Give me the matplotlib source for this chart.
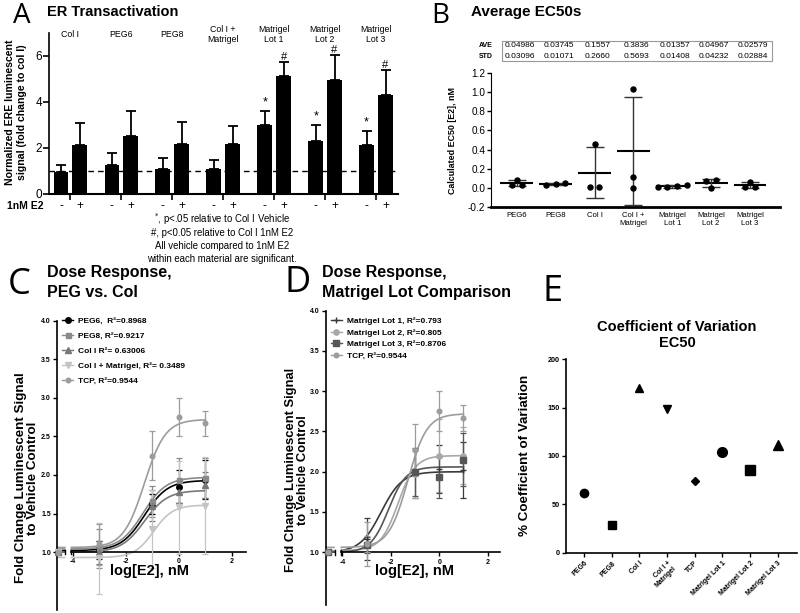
import numpy as np
import matplotlib.pyplot as plt
import matplotlib.transforms as mtransforms
from matplotlib.lines import Line2D
from matplotlib.patches import Rectangle

plt.rcParams['font.family'] = ['Liberation Sans', 'DejaVu Sans']
plt.rcParams['axes.unicode_minus'] = False

W, H = 800, 613

# ---------------- data ----------------
# A: ER transactivation (fold change to Col I)
a_groups = ['Col I', 'PEG6', 'PEG8', 'Col I +\nMatrigel', 'Matrigel\nLot 1', 'Matrigel\nLot 2', 'Matrigel\nLot 3']
a_vehicle = [0.96, 1.27, 1.10, 1.07, 3.00, 2.30, 2.14]
a_vehicle_err = [0.28, 0.52, 0.47, 0.39, 0.59, 0.70, 0.58]
a_e2 = [2.12, 2.52, 2.18, 2.18, 5.12, 4.96, 4.30]
a_e2_err = [0.95, 1.10, 0.97, 0.78, 0.62, 1.07, 1.07]
a_vehicle_sig = ['', '', '', '', '*', '*', '*']
a_e2_sig = ['', '', '', '', '#', '#', '#']

# B: average EC50s
b_groups = ['PEG6', 'PEG8', 'Col I', 'Col I +\nMatrigel', 'Matrigel\nLot 1', 'Matrigel\nLot 2', 'Matrigel\nLot 3']
b_points = [[0.085, 0.032, 0.032],
            [0.025, 0.045, 0.042],
            [0.002, 0.463, 0.002],
            [1.040, 0.110, 0.000],
            [0.003, 0.015, 0.032, 0.004],
            [0.075, 0.074, 0.000],
            [0.059, 0.009, 0.009]]
b_ave = [0.04986, 0.03745, 0.1557, 0.3836, 0.01357, 0.04967, 0.02579]
b_std = [0.03096, 0.01071, 0.2660, 0.5693, 0.01408, 0.04232, 0.02884]

# C/D: dose response, log[E2] nM
dose_log = [-3, -1, 0, 1]
c_names = ['PEG6,  R²=0.8968', 'PEG8, R²=0.9217', 'Col I R²= 0.63006',
           'Col I + Matrigel, R²= 0.3489', 'TCP, R²=0.9544']
c_mean = [[1.03, 1.63, 1.85, 1.94],
          [1.05, 1.66, 1.93, 1.96],
          [1.00, 1.60, 1.78, 1.87],
          [0.92, 1.30, 1.58, 1.60],
          [1.10, 2.25, 2.75, 2.67]]
c_err = [[0.12, 0.13, 0.21, 0.25],
         [0.25, 0.20, 0.29, 0.26],
         [0.15, 0.20, 0.14, 0.17],
         [0.46, 0.50, 0.60, 0.63],
         [0.27, 0.32, 0.25, 0.16]]
# fitted 4PL: bottom, top, logEC50, hill slope
c_fit = [[1.02, 1.93, -1.30, 1.0],
         [1.04, 1.97, -1.35, 1.0],
         [1.00, 1.80, -1.30, 1.0],
         [0.93, 1.61, -0.95, 1.2],
         [1.06, 2.72, -1.30, 1.1]]

d_names = ['Matrigel Lot 1, R²=0.793', 'Matrigel Lot 2, R²=0.805',
           'Matrigel Lot 3, R²=0.8706', 'TCP, R²=0.9544']
d_mean = [[1.17, 1.97, 2.03, 2.02],
          [1.10, 1.97, 2.20, 2.20],
          [1.09, 2.00, 1.93, 2.15],
          [1.10, 2.27, 2.75, 2.67]]
d_err = [[0.26, 0.30, 0.30, 0.35],
         [0.10, 0.30, 0.45, 0.35],
         [0.10, 0.30, 0.25, 0.33],
         [0.27, 0.32, 0.25, 0.16]]
d_fit = [[1.00, 2.00, -2.40, 1.0],
         [1.02, 2.20, -1.70, 1.2],
         [1.00, 2.06, -2.10, 1.2],
         [1.06, 2.72, -1.30, 1.1]]

# E: coefficient of variation of EC50
e_groups = ['PEG6', 'PEG8', 'Col I', 'Col I +\nMatrigel', 'TCP',
            'Matrigel Lot 1', 'Matrigel Lot 2', 'Matrigel Lot 3']
e_cv = [62.1, 28.6, 170.8, 148.4, 74.5, 103.8, 85.2, 111.8]

# ---------------- helpers ----------------
fig = plt.figure(figsize=(8, 6.13), dpi=100)


def px_axes(l, t, r, b):
    return fig.add_axes([l / W, 1 - b / H, (r - l) / W, (b - t) / H])


def ftext(x, y, s, **kw):
    return fig.text(x / W, 1 - y / H, s, **kw)


def hill(x, bottom, top, logec50, slope):
    return bottom + (top - bottom) / (1 + 10 ** ((logec50 - x) * slope))


def bold_ticks(ax):
    for lab in ax.get_xticklabels() + ax.get_yticklabels():
        lab.set_fontweight('bold')


# ---------------- panel letters / titles ----------------
ftext(13, 23, 'A', fontsize=20, family='Open Sans')
ftext(431, 23, 'B', fontsize=20, family='Open Sans')
ftext(8, 294, 'C', fontsize=26, family='Open Sans')
ftext(284, 292, 'D', fontsize=26, family='Open Sans')
ftext(543, 301, 'E', fontsize=26, family='Open Sans')
ftext(47, 16, 'ER Transactivation', fontsize=10.5, weight='bold')
ftext(471, 16, 'Average EC50s', fontsize=11, weight='bold')
ftext(47, 297, 'Dose Response,\nPEG vs. Col', fontsize=11.5, weight='bold', linespacing=1.45)
ftext(322, 297, 'Dose Response,\nMatrigel Lot Comparison', fontsize=11.5, weight='bold', linespacing=1.45)
ftext(677, 335, 'Coefficient of Variation\nEC50', fontsize=10.5, weight='bold', ha='center', va='center',
      linespacing=1.2)

# ---------------- A ----------------
ax = px_axes(49, 33, 398, 194)
xg = np.arange(len(a_groups))
off, bw = 0.185, 0.29
ax.bar(xg - off, a_vehicle, bw, color='black')
ax.bar(xg + off, a_e2, bw, color='black')
ax.errorbar(xg - off, a_vehicle, yerr=[np.zeros(len(xg)), a_vehicle_err], fmt='none',
            ecolor='black', elinewidth=1.3, capsize=3.5, capthick=1.3)
ax.errorbar(xg + off, a_e2, yerr=[np.zeros(len(xg)), a_e2_err], fmt='none',
            ecolor='black', elinewidth=1.3, capsize=3.5, capthick=1.3)
for i in range(len(xg)):
    if a_vehicle_sig[i]:
        ax.text(xg[i] - off, a_vehicle[i] + a_vehicle_err[i] + 0.12, a_vehicle_sig[i],
                ha='center', va='bottom', fontsize=9)
    if a_e2_sig[i]:
        ax.text(xg[i] + off, a_e2[i] + a_e2_err[i] + 0.02, a_e2_sig[i],
                ha='center', va='bottom', fontsize=8)
ax.axhline(1, color='black', lw=1, ls=(0, (4, 3)))
ax.set_xlim(-0.42, 6.43)
ax.set_ylim(0, 7)
ax.set_yticks([0, 2, 4, 6])
ax.set_xticks(xg)
ax.set_xticklabels([])
ax.tick_params(axis='x', length=4, width=1.2)
ax.tick_params(axis='y', labelsize=8.5, length=4, width=1.2, pad=1)
for s in ['top', 'right']:
    ax.spines[s].set_visible(False)
ax.spines['left'].set_linewidth(1.2)
ax.spines['bottom'].set_linewidth(1.5)
tr = mtransforms.blended_transform_factory(ax.transData, ax.transAxes)
for i, g in enumerate(a_groups):
    ax.text(xg[i], 0.99, g, transform=tr, ha='center', va='center', fontsize=6.3, linespacing=1.05)
    ax.text(xg[i] - off, -0.075, '-', transform=tr, ha='center', va='center', fontsize=8.5)
    ax.text(xg[i] + off, -0.075, '+', transform=tr, ha='center', va='center', fontsize=8.5)
ax.text(-0.017, -0.075, '1nM E2', transform=ax.transAxes, ha='right', va='center',
        fontsize=7.5, weight='bold')
ftext(16, 112, 'Normalized ERE luminescent\nsignal (fold change to col I)', rotation=90,
      ha='center', va='center', fontsize=7.6, weight='bold', linespacing=1.15)
foot = ['$^{*}$, p<.05 relative to Col I Vehicle', '#, p<0.05 relative to Col I 1nM E2',
        'All vehicle compared to 1nM E2', 'within each material are significant.']
for k, s in enumerate(foot):
    ftext(222, 219 + 13.5 * k, s, ha='center', va='center', fontsize=6.9)

# ---------------- B ----------------
ax = px_axes(490.7, 73.3, 780, 206.7)
xb = np.arange(len(b_groups))
for i, pts in enumerate(b_points):
    vals = np.array(pts)
    order = np.argsort(vals)
    xs = np.zeros(len(vals))
    # spread overlapping points sideways
    clusters = [[order[0]]]
    for j in order[1:]:
        if vals[j] - vals[clusters[-1][-1]] < 0.02:
            clusters[-1].append(j)
        else:
            clusters.append([j])
    for cl in clusters:
        n = len(cl)
        for k, j in enumerate(cl):
            xs[j] = (k - (n - 1) / 2) * 0.25
    ax.plot(xb[i] + xs, vals, 'o', color='black', ms=3.6, clip_on=False, zorder=3)
ax.hlines(b_ave, xb - 0.42, xb + 0.42, color='black', lw=1.5, zorder=2)
ax.errorbar(xb, b_ave, yerr=b_std, fmt='none', ecolor='#333333', elinewidth=1,
            capsize=6.5, capthick=1)
ax.set_xlim(-0.67, 6.77)
ax.set_ylim(-0.2, 1.2)
ax.set_yticks(np.round(np.arange(-0.2, 1.21, 0.2), 1))
ax.set_yticklabels(['%.1f' % v for v in np.arange(-0.2, 1.21, 0.2)])
ax.set_xticks(xb)
ax.set_xticklabels(b_groups, fontsize=5.6, linespacing=1.1)
ax.tick_params(axis='x', length=0, pad=4)
ax.tick_params(axis='y', labelsize=7.2, length=3, width=1, pad=1)
for s in ['top', 'right']:
    ax.spines[s].set_visible(False)
ax.spines['bottom'].set_linewidth(2)
ax.set_ylabel('Calculated EC50 [E2], nM', fontsize=6.4, weight='bold', labelpad=8)
# table of averages above the plot
fig.patches.append(Rectangle((501.7 / W, 1 - 61 / H), (772 - 501.7) / W, 20.3 / H,
                             transform=fig.transFigure, fill=False, ec='#999999', lw=0.8))
trb = mtransforms.blended_transform_factory(ax.transData, fig.transFigure)
ftext(486, 45.5, 'AVE', ha='center', va='center', fontsize=5, weight='bold')
ftext(486, 56, 'STD', ha='center', va='center', fontsize=5, weight='bold')
for i in range(len(xb)):
    ax.text(xb[i] + 0.08, 1 - 45.5 / H, '%#.4g' % b_ave[i], transform=trb, ha='center',
            va='center', fontsize=6)
    ax.text(xb[i] + 0.08, 1 - 56 / H, '%#.4g' % b_std[i], transform=trb, ha='center',
            va='center', fontsize=6)


# ---------------- C / D ----------------
def dose_panel(ax, names, means, errs, fits, colors, markers, msizes, xlim, ylim, xctrl):
    xx = np.linspace(-4.05, 1, 200)
    xl = np.linspace(xlim[0], xctrl + 0.25, 10)
    handles = []
    for k in range(len(names)):
        c = colors[k]
        ax.plot(xx, hill(xx, *fits[k]), color=c, lw=1.2, zorder=2)
        ax.plot(xl, hill(xl, *fits[k]), color=c, lw=1.2, zorder=2, clip_on=False)
        ax.errorbar(dose_log, means[k], yerr=errs[k], fmt=markers[k], color=c, ms=msizes[k],
                    elinewidth=0.9, capsize=2.2, capthick=0.9, zorder=3)
        ax.plot([xctrl], [1.0], marker=markers[k], color=c, ms=msizes[k], clip_on=False, zorder=3)
        handles.append(Line2D([0], [0], color=c, marker=markers[k], ms=msizes[k], lw=1))
    ax.set_xlim(*xlim)
    ax.set_ylim(*ylim)
    ax.spines['bottom'].set_position(('data', 1.0))
    ax.spines['bottom'].set_bounds(-4.07, xlim[1])
    ax.plot([xlim[0], -4.3], [1.0, 1.0], color='black', lw=1.2, clip_on=False, zorder=1)
    ax.plot([-4.3, -4.3], [0.97, 1.03], color='black', lw=1, clip_on=False)
    ax.plot([-4.07, -4.07], [0.97, 1.03], color='black', lw=1, clip_on=False)
    for s in ['top', 'right']:
        ax.spines[s].set_visible(False)
    ax.spines['bottom'].set_linewidth(1.2)
    ax.spines['left'].set_linewidth(1.2)
    ax.set_yticks(np.arange(1.0, 4.01, 0.5))
    ax.set_yticklabels(['%.1f' % v for v in np.arange(1.0, 4.01, 0.5)])
    ax.set_xticks([-4, -2, 0, 2])
    ax.set_xticklabels(['-4', '-2', '0', '2'])
    ax.tick_params(labelsize=5, length=3, width=1, pad=1.5)
    bold_ticks(ax)
    return handles


c_colors = ['#000000', '#8a8a8a', '#787878', '#c4c4c4', '#9c9c9c']
c_markers = ['o', 's', '^', 'v', 'o']
c_ms = [4, 3.6, 3.8, 3.8, 3.3]
ax = px_axes(57.3, 320.7, 246, 610)
hs = dose_panel(ax, c_names, c_mean, c_err, c_fit, c_colors, c_markers, c_ms,
                (-4.58, 2.53), (0.25, 4.0), -4.55)
leg = ax.legend(hs, c_names, loc='upper left', bbox_to_anchor=(0.0, 1.03), frameon=False,
                prop={'size': 6, 'weight': 'bold'}, handlelength=1.3, handletextpad=0.6,
                labelspacing=0.85, borderaxespad=0.2)
ax.text(0.486, 0.135, 'log[E2], nM', transform=ax.transAxes, ha='center', va='center',
        fontsize=10.5, weight='bold')
ftext(27, 478, 'Fold Change Luminescent Signal\nto Vehicle Control', rotation=90, ha='center',
      va='center', fontsize=9.6, weight='bold', linespacing=1.1)

d_colors = ['#3a3a3a', '#a8a8a8', '#565656', '#9c9c9c']
d_markers = ['+', 'o', 's', 'o']
d_ms = [4.5, 3.8, 3.8, 3.3]
ax = px_axes(326, 310.7, 500, 605)
hs = dose_panel(ax, d_names, d_mean, d_err, d_fit, d_colors, d_markers, d_ms,
                (-4.68, 2.51), (0.345, 4.0), -4.6)
ax.legend(hs, d_names, loc='upper left', bbox_to_anchor=(0.0, 0.995), frameon=False,
          prop={'size': 6, 'weight': 'bold'}, handlelength=1.3, handletextpad=0.6,
          labelspacing=0.45, borderaxespad=0.2)
ax.text(0.509, 0.115, 'log[E2], nM', transform=ax.transAxes, ha='center', va='center',
        fontsize=10.5, weight='bold')
ftext(297, 470, 'Fold Change Luminescent Signal\nto Vehicle Control', rotation=90, ha='center',
      va='center', fontsize=9.4, weight='bold', linespacing=1.1)

# ---------------- E ----------------
ax = px_axes(566, 359.3, 796.7, 552.7)
e_markers = ['o', 's', '^', 'v', 'D', 'o', 's', '^']
e_ms = [6, 5.5, 6, 6, 4.2, 7, 6.5, 7]
xe = np.arange(len(e_groups))
for i in range(len(xe)):
    ax.plot(xe[i], e_cv[i], marker=e_markers[i], color='black', ms=e_ms[i], ls='none')
ax.set_xlim(-0.66, 7.69)
ax.set_ylim(0, 200)
ax.set_yticks([0, 50, 100, 150, 200])
ax.set_xticks(xe)
ax.set_xticklabels(e_groups, rotation=45, ha='right', rotation_mode='anchor', fontsize=5,
                   linespacing=1.1)
ax.tick_params(axis='y', labelsize=5.2, length=3, width=1, pad=1.5)
ax.tick_params(axis='x', length=3, width=1, pad=2)
bold_ticks(ax)
for s in ['top', 'right']:
    ax.spines[s].set_visible(False)
ax.spines['bottom'].set_linewidth(1.2)
ax.spines['left'].set_linewidth(1.2)
ftext(525, 455, '% Coefficient of Variation', rotation=90, ha='center', va='center',
      fontsize=9.6, weight='bold')

fig.savefig('out.png', dpi=100)
